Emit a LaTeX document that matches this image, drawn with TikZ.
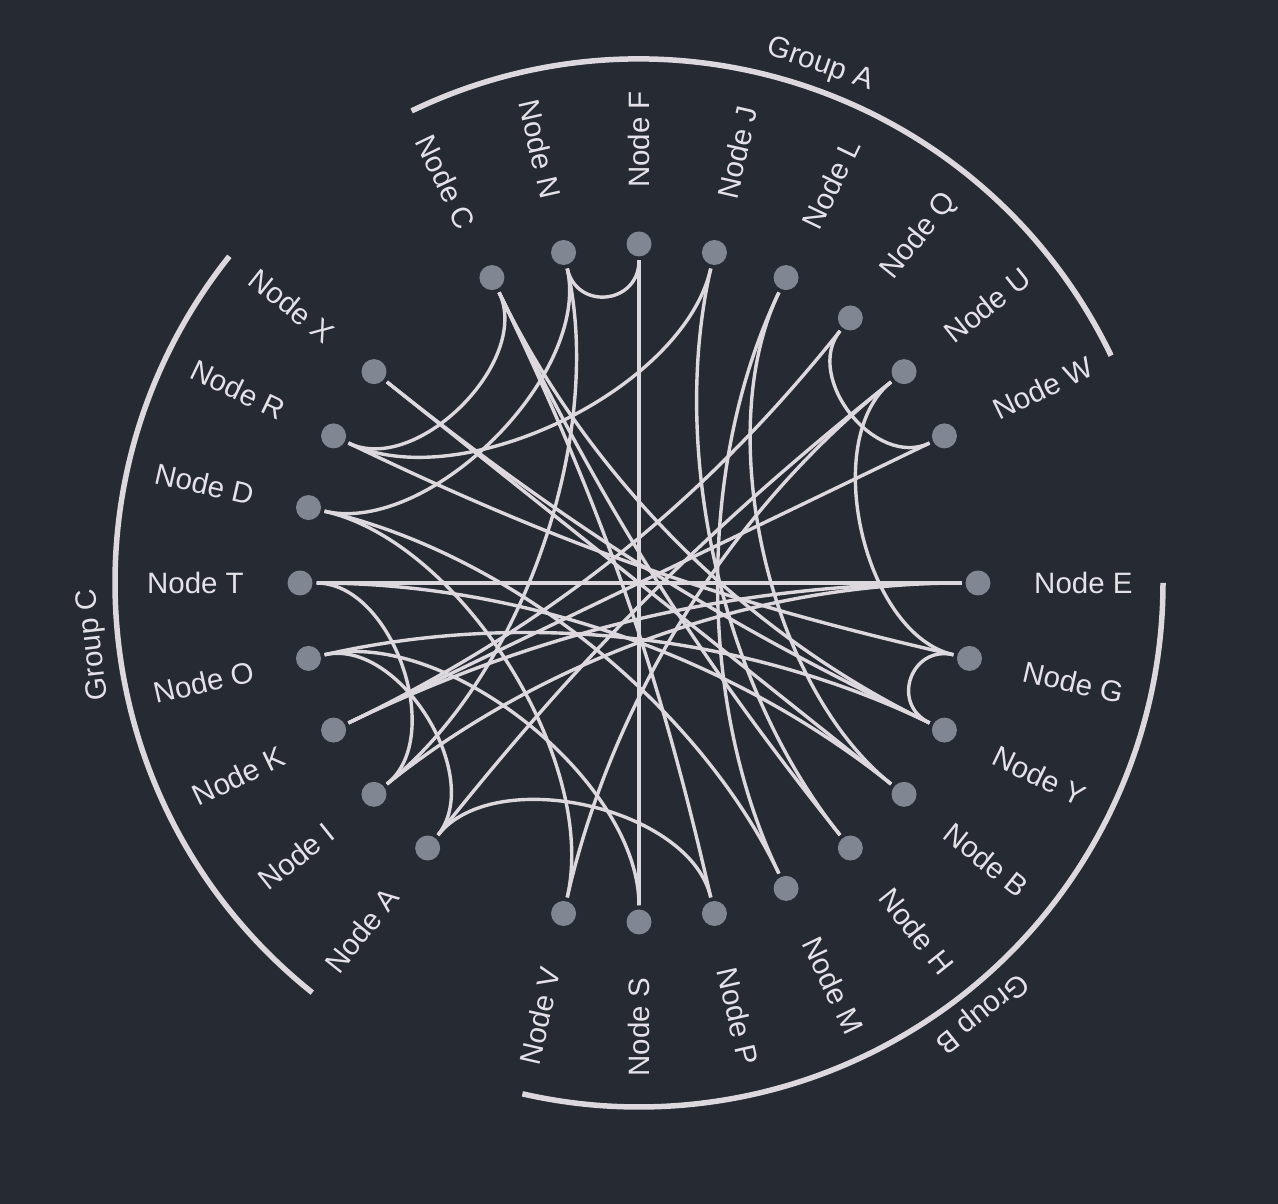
\documentclass[tikz,border=0pt]{standalone}
\usepackage{fontspec}
\setmainfont{Liberation Sans}
\usetikzlibrary{calc}
\definecolor{bgc}{RGB}{37,42,51}
\definecolor{dotc}{RGB}{128,134,146}
\definecolor{edgec}{RGB}{220,216,222}
\definecolor{txtc}{RGB}{228,225,232}
\begin{document}
\begin{tikzpicture}[x=1pt,y=1pt,
  dotnode/.style={circle, fill=dotc, minimum size=25pt, inner sep=0pt, outer sep=4pt},
  edgeline/.style={draw=edgec, line width=3.4pt},
  grparc/.style={draw=edgec, line width=5.5pt},
  lbl/.style={text=txtc, font=\fontsize{29.5}{34}\selectfont, inner sep=0pt, text height=21pt, text depth=0pt},
]
\fill[bgc] (0,0) rectangle (1278,1204);
\useasboundingbox (0,0) rectangle (1278,1204);
\begin{scope}[shift={(639,621)}]
\coordinate (ctr) at (0,0);
% nodes and labels
\foreach \n/\k in {F/0,J/1,L/2,Q/3,U/4,W/5,E/7,G/8,Y/9,B/10,H/11,M/12,P/13,S/14,V/15,A/17,I/18,K/19,O/20,T/21,D/22,R/23,X/24,C/26,N/27} {
  \pgfmathsetmacro\ang{90-12.857143*\k}
  \node[dotnode] (\n) at (\ang:339) {};
  \expandafter\xdef\csname slot\n\endcsname{\k}
  \pgfmathtruncatemacro\rside{\ang>-89.99 ? 1 : 0}
  \ifnum\rside=1
    \node[lbl, anchor=west, rotate=\ang] (lab\n) at (\ang:395) {Node \n};
  \else
    \pgfmathsetmacro\angb{\ang+180}
    \node[lbl, anchor=east, rotate=\angb] (lab\n) at (\ang:395) {Node \n};
  \fi
}
% edges
\foreach \s/\t in {N/F, F/S, T/E, C/R, N/D, R/J, Q/W, X/B, W/K, U/G, G/Y, T/I, O/A, A/P, N/I, O/S, Q/K, U/V, A/U, D/V, J/H, L/M, L/B, C/H, C/Y, O/Y, E/K, E/I, T/B, R/G, C/P, D/M, X/Y} {
  \edef\sa{\csname slot\s\endcsname}
  \edef\sb{\csname slot\t\endcsname}
  \pgfmathsetmacro\dd{abs(\sa-\sb)}
  \pgfmathsetmacro\dd{min(\dd,28-\dd)}
  \pgfmathsetmacro\kk{0.87-0.0037*12.857143*\dd}
  \draw[edgeline] (\s) .. controls ($(ctr)!\kk!(\s)$) and ($(ctr)!\kk!(\t)$) .. (\t);
}
% group arcs
\draw[grparc] (115.714:524) arc[start angle=115.714, end angle=25.714, radius=524];
\draw[grparc] (0:524) arc[start angle=0, end angle=-102.857, radius=524];
\draw[grparc] (141.429:524) arc[start angle=141.429, end angle=231.429, radius=524];
\node[lbl, rotate=-19.286] (gA) at (70.714:552) {Group A};
\node[lbl, rotate=-141.429] (gB) at (-51.429:552) {Group B};
\node[lbl, rotate=96.429] (gC) at (186.429:552) {Group C};
\end{scope}
\end{tikzpicture}
\end{document}
